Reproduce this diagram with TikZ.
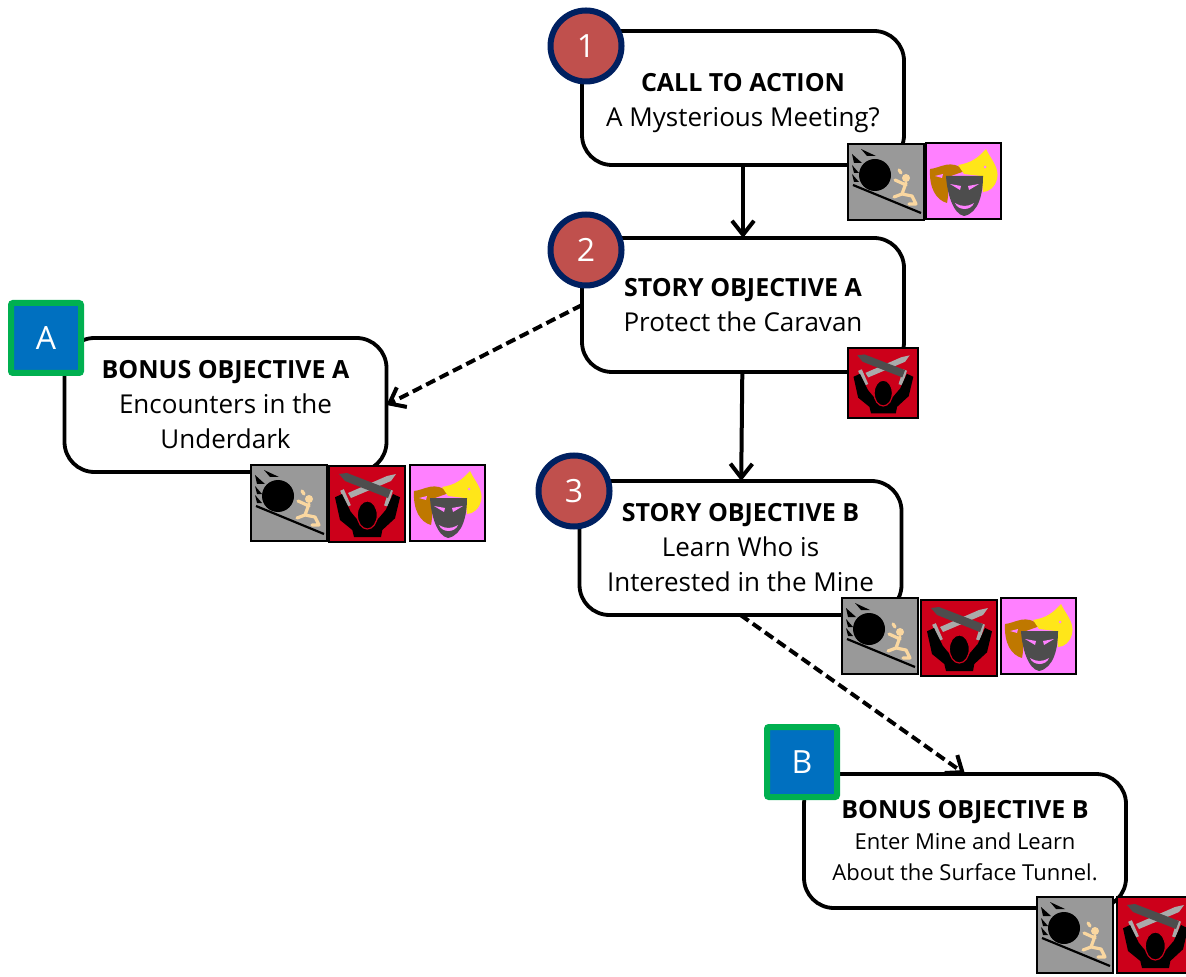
\documentclass[tikz,border=0pt]{standalone}
\usepackage{fontspec}
\setmainfont{Open Sans}
\usepackage{tikz}
\usetikzlibrary{shadows, arrows.meta}
\definecolor{badgered}{RGB}{192, 80, 77}
\definecolor{badgenavy}{RGB}{0, 32, 96}
\definecolor{badgeblue}{RGB}{0, 112, 192}
\definecolor{badgegreen}{RGB}{0, 176, 80}
\definecolor{icongray}{RGB}{153, 153, 153}
\definecolor{barlight}{RGB}{170, 170, 170}
\definecolor{iconred}{RGB}{204, 0, 26}
\definecolor{iconpink}{RGB}{255, 128, 255}
\definecolor{skintan}{RGB}{250, 215, 160}
\definecolor{maskbrown}{RGB}{191, 120, 0}
\definecolor{maskyellow}{RGB}{255, 230, 25}
\definecolor{maskdark}{RGB}{77, 77, 77}
\newcommand{\headfont}{\fontsize{12.5}{17.5}\selectfont\bfseries}
\tikzset{
  objbox/.style={draw, line width=1.9pt, rounded corners=15pt, fill=white,
    minimum width=161pt, minimum height=67pt, inner sep=0pt, outer sep=0pt,
    align=center, font=\fontsize{13}{17.5}\selectfont},
  smallbox/.style={objbox, font=\fontsize{11}{15.5}\selectfont},
  numbadge/.style={circle, draw=badgenavy, line width=3pt, fill=badgered, text=white,
    minimum size=35.5pt, inner sep=0pt, font=\fontsize{16}{18}\selectfont,
    drop shadow={opacity=.25, shadow xshift=.6pt, shadow yshift=-.6pt}},
  letbadge/.style={rectangle, rounded corners=1pt, draw=badgegreen, line width=3pt, fill=badgeblue,
    text=white, minimum size=35pt, inner sep=0pt, font=\fontsize{16}{18}\selectfont,
    drop shadow={opacity=.25, shadow xshift=.6pt, shadow yshift=-.6pt}},
  link/.style={line width=2pt, -{Straight Barb[length=7pt, width=11pt]}},
  dashlink/.style={link, dash pattern=on 5pt off 2.5pt},
  pics/boulder/.style={code={
    \draw[line width=1pt, fill=icongray] (0,0) rectangle (76,76);
    \fill (27,31) circle (16);
    \fill (13,5) -- (28,12) -- (19,12) -- cycle;
    \fill (4,10) -- (14,19) -- (6,19) -- cycle;
    \fill (4,21) -- (11,29) -- (6,29) -- cycle;
    \fill (4,30) -- (11,38) -- (6,38) -- cycle;
    \draw[line width=1.1pt] (5,41) -- (73,69);
    \fill[skintan] (58,34) circle (4);
    \draw[skintan, line width=1.6pt, line cap=round, line join=round]
      (58,39) -- (54,50) -- (46,53) (54,50) -- (64,52) -- (68,60) -- (61,60)
      (58,41) -- (47,36) (51,26) -- (53,29);
  }},
  pics/threat/.style={code={
    \draw[line width=1pt, fill=iconred] (0,0) rectangle (76,76);
    \fill[barlight] (22,32) -- (19,27) -- (58,10) -- (67,8) -- (62,15) -- cycle;
    \draw[barlight, line width=2pt] (13,24) -- (20,40) (62,24) -- (57,40);
    \fill[maskdark] (10,8) -- (18,7) -- (62,24) -- (59,32) -- (16,15) -- cycle;
    \fill (6,31.3) -- (13,28) -- (21.7,45.7) -- (30,55.7) -- (46.7,55.7) -- (56.7,44) -- (64,28)
      -- (71,31.3) -- (66,52.3) -- (53.3,64) -- (52,71) -- (25,71) -- (23.3,64) -- (11,54) -- cycle;
    \draw[iconred, line width=.6pt, fill=black] (38.3,49) ellipse (10 and 14);
  }},
  pics/masks/.style={code={
    \draw[line width=1pt, fill=iconpink] (0,0) rectangle (75,76);
    \fill[maskbrown] (4,26) .. controls (15,25) and (25,15) .. (39,28) -- (22,34)
      .. controls (22,42) and (23,50) .. (21,60) .. controls (10,57) and (3,45) .. (4,26) -- cycle;
    \fill[iconpink] (9,33) -- (17,31) -- (16,35) -- cycle;
    \fill[maskyellow] (32,22) .. controls (45,20) and (52,15) .. (60,6) .. controls (64,15) and (74,25) .. (71,36)
      .. controls (69,44) and (63,49) .. (57,49) -- (55,33) -- (38,31) -- cycle;
    \fill[iconpink] (59,24) circle (1.5);
    \fill[maskdark] (20,33) -- (57,33) .. controls (57,50) and (53,70) .. (38,73)
      .. controls (27,71) and (21,50) .. (20,33) -- cycle;
    \fill[iconpink] (24,41) -- (35,43) -- (34,47) -- cycle;
    \fill[iconpink] (53,41) -- (42,43) -- (43,47) -- cycle;
    \fill[iconpink] (29,60) .. controls (36,64) and (41,64) .. (48,60) .. controls (45,68) and (32,68) .. (29,60) -- cycle;
  }}
}

\begin{document}
\begin{tikzpicture}[x=0.5pt, y=-0.5pt]
  \clip (0,0) rectangle (1186,977);

  %Story objectives
  \node[objbox] (call) at (743,98) {\rule{0pt}{14pt}{\headfont CALL TO ACTION}\\A Mysterious Meeting?};
  \node[objbox] (storya) at (743,305) {{\headfont STORY OBJECTIVE A}\\Protect the Caravan};
  \node[objbox] (storyb) at (740.5,548) {{\headfont STORY OBJECTIVE B}\\Learn Who is\\Interested in the Mine};

  %Bonus objectives
  \node[objbox] (bonusa) at (225.5,405) {{\headfont BONUS OBJECTIVE A}\\Encounters in the\\Underdark};
  \node[smallbox] (bonusb) at (965,841) {{\headfont BONUS OBJECTIVE B}\\Enter Mine and Learn\\About the Surface Tunnel.};

  \draw[link] (call) -- (storya);
  \draw[link] (storya) -- (storyb);
  \draw[dashlink] (storya.west) -- (bonusa.east);
  \draw[dashlink] (storyb.south) -- (bonusb.north);

  %Badges
  \node[numbadge] (one) at (586,46) {1};
  \node[numbadge] (two) at (586,250) {2};
  \node[numbadge] (three) at (574,491) {3};
  \node[letbadge] (leta) at (46,338) {A};
  \node[letbadge] (letb) at (802,762) {B};

  %Icons
  \pic (callrock) at (848,144) {boulder};
  \pic (callmask) at (926,143) {masks};
  \pic[scale=.92] (storyathreat) at (848,348) {threat};
  \pic (bonusarock) at (251,465) {boulder};
  \pic (bonusathreat) at (329,466) {threat};
  \pic (bonusamask) at (410,465) {masks};
  \pic (storybrock) at (842,598) {boulder};
  \pic (storybthreat) at (921,600) {threat};
  \pic (storybmask) at (1001,598) {masks};
  \pic (bonusbrock) at (1037,897) {boulder};
  \pic (bonusbthreat) at (1117,897) {threat};
\end{tikzpicture}
\end{document}
